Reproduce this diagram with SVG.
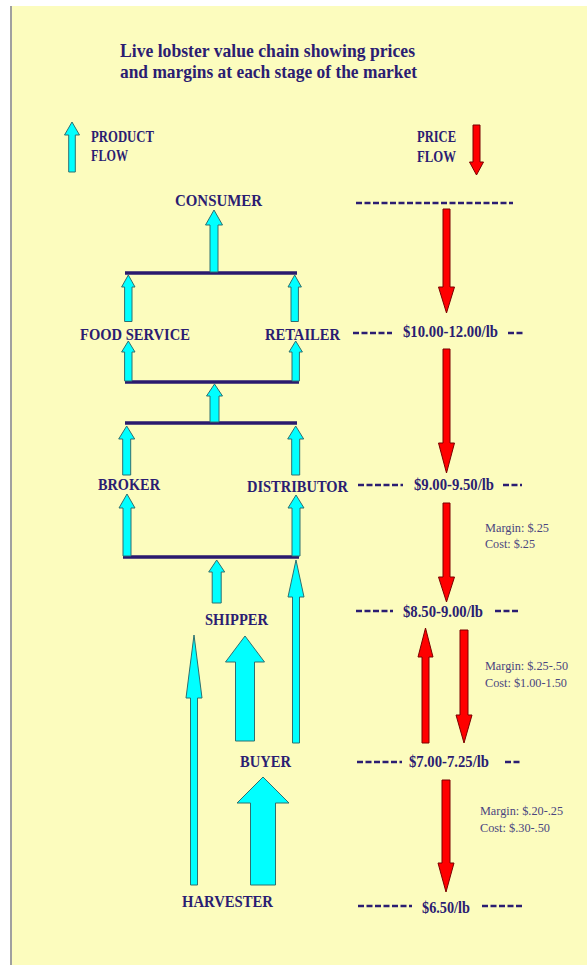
<svg xmlns="http://www.w3.org/2000/svg" width="587" height="965" viewBox="0 0 587 965">
<style>
.lbl{font-family:"Liberation Serif","Times New Roman",serif;font-weight:bold;font-size:16.5px;fill:#2B1D72}
.leg{font-family:"Liberation Serif","Times New Roman",serif;font-weight:bold;font-size:17.5px;fill:#2B1D72}
.ttl{font-family:"Liberation Serif","Times New Roman",serif;font-weight:bold;font-size:19px;fill:#2B1D72}
.prc{font-family:"Liberation Serif","Times New Roman",serif;font-weight:bold;font-size:16.5px;fill:#2B1D72}
.mrg{font-family:"Liberation Serif","Times New Roman",serif;font-size:13px;fill:#4A4580}
.cy{fill:#00FFFF;stroke:#2F6F6F;stroke-width:1}
.rd{fill:#FF0000;stroke:#7A0000;stroke-width:1}
.bar{stroke:#2A1A6E;stroke-width:3.5;fill:none}
.dash{stroke:#2B1D72;stroke-width:2.5;stroke-dasharray:6 2.5;fill:none}
</style>
<rect x="0" y="0" width="587" height="965" fill="#FFFFFF"/>
<rect x="12" y="6" width="575" height="959" fill="#FCFCBE"/>
<line x1="11" y1="6" x2="11" y2="965" stroke="#A0A0A0" stroke-width="2"/>

<g id="title">
<text class="ttl" x="120" y="56.5" textLength="295" lengthAdjust="spacingAndGlyphs">Live lobster value chain showing prices</text>
<text class="ttl" x="120" y="78" textLength="297" lengthAdjust="spacingAndGlyphs">and margins at each stage of the market</text>
</g>

<g id="legend-product">
<polygon class="cy" points="72,122 79.5,135 75.3,135 75.3,172 68.7,172 68.7,135 64.5,135"/>
<text class="leg" x="91" y="142" textLength="63" lengthAdjust="spacingAndGlyphs">PRODUCT</text>
<text class="leg" x="91" y="161" textLength="37" lengthAdjust="spacingAndGlyphs">FLOW</text>
</g>
<g id="legend-price">
<text class="leg" x="417" y="142" textLength="39" lengthAdjust="spacingAndGlyphs">PRICE</text>
<text class="leg" x="417" y="162" textLength="39" lengthAdjust="spacingAndGlyphs">FLOW</text>
<polygon class="rd" points="473,125 480,125 480,162 483.5,162 476.5,175 469.5,162 473,162"/>
</g>

<g id="consumer"><text class="lbl" x="175" y="206" textLength="87" lengthAdjust="spacingAndGlyphs">CONSUMER</text></g>
<g id="food-service"><text class="lbl" x="80" y="340" textLength="110" lengthAdjust="spacingAndGlyphs">FOOD SERVICE</text></g>
<g id="retailer"><text class="lbl" x="265" y="340" textLength="75" lengthAdjust="spacingAndGlyphs">RETAILER</text></g>
<g id="broker"><text class="lbl" x="98" y="490" textLength="62" lengthAdjust="spacingAndGlyphs">BROKER</text></g>
<g id="distributor"><text class="lbl" x="247" y="492" textLength="101" lengthAdjust="spacingAndGlyphs">DISTRIBUTOR</text></g>
<g id="shipper"><text class="lbl" x="205" y="625" textLength="63" lengthAdjust="spacingAndGlyphs">SHIPPER</text></g>
<g id="buyer"><text class="lbl" x="240" y="767" textLength="51" lengthAdjust="spacingAndGlyphs">BUYER</text></g>
<g id="harvester"><text class="lbl" x="182" y="907" textLength="91" lengthAdjust="spacingAndGlyphs">HARVESTER</text></g>

<g id="prices">
<text class="prc" x="403" y="337" textLength="95" lengthAdjust="spacingAndGlyphs">$10.00-12.00/lb</text>
<text class="prc" x="414" y="490" textLength="80" lengthAdjust="spacingAndGlyphs">$9.00-9.50/lb</text>
<text class="prc" x="403" y="617" textLength="80" lengthAdjust="spacingAndGlyphs">$8.50-9.00/lb</text>
<text class="prc" x="409" y="767" textLength="80" lengthAdjust="spacingAndGlyphs">$7.00-7.25/lb</text>
<text class="prc" x="422" y="913" textLength="48" lengthAdjust="spacingAndGlyphs">$6.50/lb</text>
</g>

<g id="margins">
<text class="mrg" x="485" y="532" textLength="64" lengthAdjust="spacingAndGlyphs">Margin: $.25</text>
<text class="mrg" x="485" y="548" textLength="50" lengthAdjust="spacingAndGlyphs">Cost: $.25</text>
<text class="mrg" x="485" y="670" textLength="83" lengthAdjust="spacingAndGlyphs">Margin: $.25-.50</text>
<text class="mrg" x="485" y="687" textLength="82" lengthAdjust="spacingAndGlyphs">Cost: $1.00-1.50</text>
<text class="mrg" x="480" y="815" textLength="83" lengthAdjust="spacingAndGlyphs">Margin: $.20-.25</text>
<text class="mrg" x="480" y="832" textLength="70" lengthAdjust="spacingAndGlyphs">Cost: $.30-.50</text>
</g>

<g id="connectors">
<!-- bars -->
<line class="bar" x1="125" y1="273" x2="297" y2="273"/>
<line class="bar" x1="125" y1="382" x2="299" y2="382"/>
<line class="bar" x1="125" y1="423" x2="297" y2="423"/>
<line class="bar" x1="123" y1="557" x2="299" y2="557"/>
<!-- cyan product arrows -->
<polygon class="cy" points="214,210 222.5,225 218,225 218,272 210,272 210,225 205.5,225"/>
<polygon class="cy" points="128.3,275 135,287 132,287 132,321.5 124.6,321.5 124.6,287 121.6,287"/>
<polygon class="cy" points="294.7,275 301.4,287 298.4,287 298.4,321.5 291,321.5 291,287 288,287"/>
<polygon class="cy" points="128.3,341 135,352 132,352 132,381 124.6,381 124.6,352 121.6,352"/>
<polygon class="cy" points="295.7,341 302.4,352 299.4,352 299.4,381 292,381 292,352 289,352"/>
<polygon class="cy" points="214.5,384 222.5,396 219,396 219,422 210,422 210,396 206.5,396"/>
<polygon class="cy" points="126.7,426 134.7,439 130.7,439 130.7,475 122.7,475 122.7,439 118.7,439"/>
<polygon class="cy" points="295.7,426 303.7,439 299.7,439 299.7,475 291.7,475 291.7,439 287.7,439"/>
<polygon class="cy" points="127,494 135,508 131,508 131,556 123,556 123,508 119,508"/>
<polygon class="cy" points="296,495 304,508 300,508 300,556 292,556 292,508 288,508"/>
<polygon class="cy" points="216.7,560 224.7,572 221.2,572 221.2,603 212.2,603 212.2,572 208.7,572"/>
<polygon class="cy" points="296,560 304,597 299.5,597 299.5,743 292.5,743 292.5,597 288,597"/>
<polygon class="cy" points="194,635 202,698 197.5,698 197.5,885 190.5,885 190.5,698 186,698"/>
<polygon class="cy" points="245,636 264.5,662 254.5,662 254.5,741 235.5,741 235.5,662 225.5,662"/>
<polygon class="cy" points="263,777 289,803 275.5,803 275.5,885 250.5,885 250.5,803 237,803"/>
<!-- red price arrows -->
<polygon class="rd" points="443,209 450,209 450,287 454.5,287 446.5,313 438.5,287 443,287"/>
<polygon class="rd" points="443,349 450,349 450,443 454.5,443 446.5,473 438.5,443 443,443"/>
<polygon class="rd" points="443,503 450,503 450,577 454.5,577 446.5,602 438.5,577 443,577"/>
<polygon class="rd" points="425.5,628 433,657 429,657 429,743 422,743 422,657 418,657"/>
<polygon class="rd" points="460,630 468,630 468,715 472,715 464,743 456,715 460,715"/>
<polygon class="rd" points="442,780 450,780 450,863 454,863 446,892 438,863 442,863"/>
<!-- dashed price level lines -->
<line class="dash" x1="356" y1="203" x2="513" y2="203"/>
<line class="dash" x1="353" y1="333" x2="392" y2="333"/>
<line class="dash" x1="508" y1="333" x2="523" y2="333"/>
<line class="dash" x1="358" y1="485" x2="403" y2="485"/>
<line class="dash" x1="503" y1="485" x2="522" y2="485"/>
<line class="dash" x1="356" y1="611" x2="393" y2="611"/>
<line class="dash" x1="495" y1="611" x2="518" y2="611"/>
<line class="dash" x1="357" y1="762" x2="402" y2="762"/>
<line class="dash" x1="505" y1="762" x2="520" y2="762"/>
<line class="dash" x1="358" y1="906" x2="412" y2="906"/>
<line class="dash" x1="482" y1="906" x2="522" y2="906"/>
</g>
</svg>
